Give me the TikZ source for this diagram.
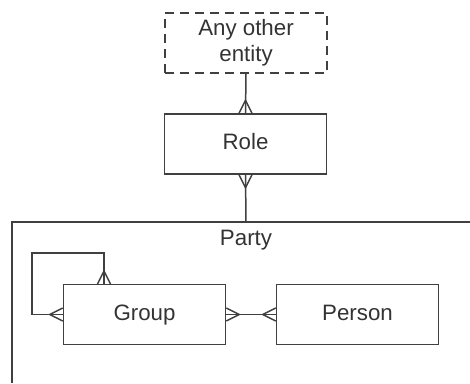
\documentclass[tikz,border=0pt]{standalone}
\usepackage{fontspec}
\setmainfont{Liberation Sans}
\usetikzlibrary{calc}
\definecolor{ink}{HTML}{404040}
\definecolor{txt}{HTML}{333333}
\begin{document}
\begin{tikzpicture}[x=1pt,y=-1pt,
  line width=1.5pt, draw=ink,
  entity/.style={draw=ink, rectangle, minimum width=162pt, minimum height=60pt,
    inner sep=0pt, text=txt, font=\fontsize{22.3}{26}\selectfont, align=center},
  oneline/.style={text height=16pt, text depth=4.5pt},
  optional/.style={entity, dashed, dash pattern=on 9pt off 6pt},
  link/.style={draw=ink, line width=1.5pt},
  foot/.style={draw=ink, line width=1.5pt}
]
\useasboundingbox (0,0) rectangle (470,383);

% entities
\node[optional] (ent) at (246,43) {Any other\\entity};
\node[entity, oneline] (role) at (245.5,144) {Role};
\node[entity, oneline] (group) at (144.5,314.5) {Group};
\node[entity, oneline] (person) at (357.5,314.5) {Person};

% Party container (open to the right and bottom)
\coordinate (ptop) at (246,222);
\coordinate (pcorner) at (12,222);
\draw[link] (470,222) -- (pcorner) -- (12,383);
\node[text=txt, oneline, inner sep=0pt, font=\fontsize{22.3}{26}\selectfont] (plabel) at (246,240) {Party};

% relationships
\draw[link] (ent.south) -- (role.north);
\draw[link] (role.south) -- (ptop);
\draw[link] (group.east) -- (person.west);
\coordinate (loopA) at (32,314.5);
\coordinate (loopB) at (32,253);
\coordinate (loopC) at (104,253);
\coordinate (gtop) at (104,284);
\draw[link] (group.west) -- (loopA) -- (loopB) -- (loopC) -- (gtop);

% crow's feet (many ends)
\draw[foot] ($(role.north)+(-6.5,0)$) -- ++(6.5,-13) -- ++(6.5,13);
\draw[foot] ($(role.south)+(-6.5,0)$) -- ++(6.5,13) -- ++(6.5,-13);
\draw[foot] ($(gtop)+(-6.5,0)$) -- ++(6.5,-13) -- ++(6.5,13);
\draw[foot] ($(group.west)+(0,-6.5)$) -- ++(-13,6.5) -- ++(13,6.5);
\draw[foot] ($(group.east)+(0,-6.5)$) -- ++(13,6.5) -- ++(-13,6.5);
\draw[foot] ($(person.west)+(0,-6.5)$) -- ++(-13,6.5) -- ++(13,6.5);
\end{tikzpicture}
\end{document}
